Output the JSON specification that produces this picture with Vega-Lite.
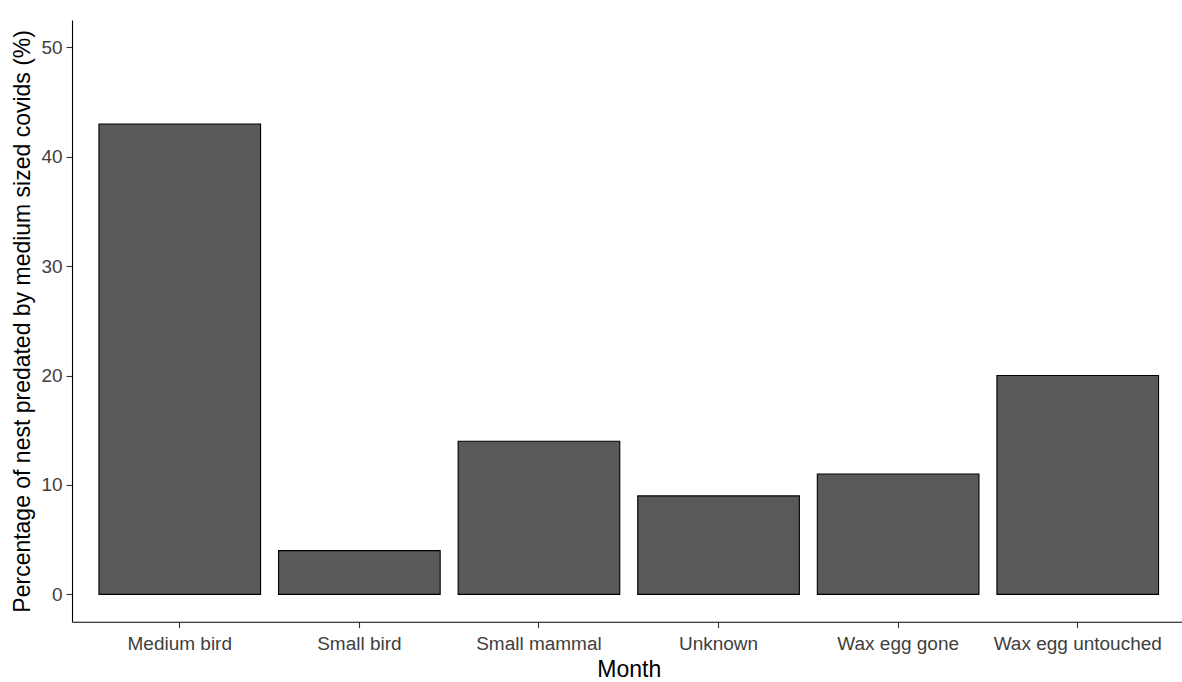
{
  "$schema": "https://vega.github.io/schema/vega-lite/v6.json",
  "autosize": {"type": "none"},
  "padding": {"left": 72, "top": 20, "right": 0, "bottom": 61},
  "width": 1113.5,
  "height": 601.7,
  "background": "white",
  "config": {
    "view": {"stroke": null},
    "font": "Liberation Sans",
    "axis": {
      "grid": false,
      "domainColor": "black",
      "domainWidth": 1.1,
      "domainOpacity": 1,
      "tickColor": "#333333",
      "tickWidth": 1.1,
      "tickSize": 6,
      "labelColor": "#404040",
      "labelFont": "Liberation Sans",
      "labelFontSize": 19,
      "titleFont": "Liberation Sans",
      "titleFontSize": 23,
      "titleFontWeight": "normal",
      "titleColor": "black"
    }
  },
  "data": {
    "values": [
      {"category": "Medium bird", "percent": 43},
      {"category": "Small bird", "percent": 4},
      {"category": "Small mammal", "percent": 14},
      {"category": "Unknown", "percent": 9},
      {"category": "Wax egg gone", "percent": 11},
      {"category": "Wax egg untouched", "percent": 20}
    ]
  },
  "mark": {"type": "bar", "fill": "#595959", "stroke": "black", "strokeWidth": 1.1},
  "encoding": {
    "x": {
      "field": "category",
      "type": "nominal",
      "sort": null,
      "scale": {"paddingInner": 0.1, "paddingOuter": 0.15},
      "axis": {
        "title": "Month",
        "labelAngle": 0,
        "labelPadding": 7,
        "titlePadding": 5,
        "domainColor": "black",
        "tickColor": "#333333"
      }
    },
    "y": {
      "field": "percent",
      "type": "quantitative",
      "scale": {"domain": [-2.5, 52.5], "nice": false, "zero": false},
      "axis": {
        "title": "Percentage of nest predated by medium sized covids (%)",
        "values": [0, 10, 20, 30, 40, 50],
        "labelPadding": 4,
        "titlePadding": 6
      }
    },
    "y2": {"datum": 0}
  }
}
